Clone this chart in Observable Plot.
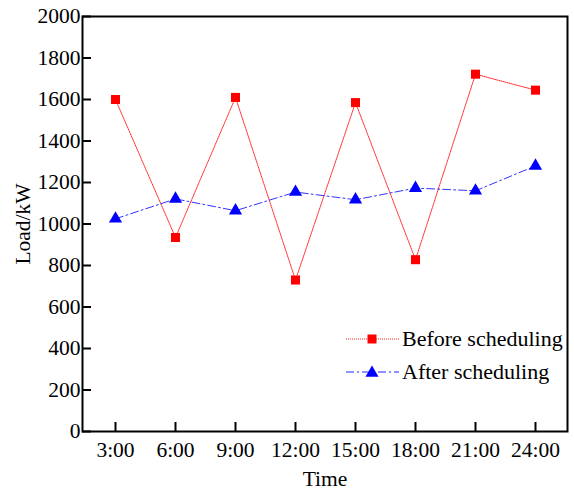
<!DOCTYPE html>
<html>
<head>
<meta charset="utf-8">
<script src="https://cdn.jsdelivr.net/npm/d3@7"></script>
<script src="https://cdn.jsdelivr.net/npm/@observablehq/plot@0.6"></script>
<style>
  html, body { margin: 0; padding: 0; background: #fff; }
  #wrap { position: relative; width: 574px; height: 492px; font-family: "Liberation Serif", "Times New Roman", serif; }
  .leg { position: absolute; left: 345px; display: flex; align-items: center; font-size: 22px; line-height: 24px; color: #000; white-space: nowrap; }
  .leg svg { display: block; margin-right: 2px; }
</style>
</head>
<body>
<div id="wrap"></div>
<script>
const times = ["3:00", "6:00", "9:00", "12:00", "15:00", "18:00", "21:00", "24:00"];
const beforeLoad = [1600, 935, 1610, 730, 1585, 828, 1722, 1645];
const afterLoad = [1025, 1121, 1064, 1154, 1117, 1173, 1160, 1280];
const yTicks = [0, 200, 400, 600, 800, 1000, 1200, 1400, 1600, 1800, 2000];
const seriesNames = ["Before scheduling", "After scheduling"];

const before = times.map((t, i) => ({time: t, load: beforeLoad[i]}));
const after = times.map((t, i) => ({time: t, load: afterLoad[i]}));

const chart = Plot.plot({
  width: 574,
  height: 492,
  marginLeft: 82,
  marginRight: 7,
  marginTop: 16,
  marginBottom: 61,
  style: {fontFamily: "'Liberation Serif', 'Times New Roman', serif", fontSize: "21.5px", color: "#000", background: "#fff"},
  x: {type: "point", domain: times, padding: 0.5},
  y: {domain: [0, 2000]},
  marks: [
    Plot.axisY({ticks: yTicks, tickFormat: d => String(d), tickSize: -9, tickPadding: 11, strokeWidth: 2, label: "Load/kW", labelAnchor: "center", labelArrow: "none", labelOffset: 68}),
    Plot.axisX({tickSize: -9, tickPadding: 19, strokeWidth: 2, label: "Time", labelAnchor: "center", labelArrow: "none", labelOffset: 54}),
    Plot.frame({stroke: "#000", strokeWidth: 2}),
    Plot.line(before, {x: "time", y: "load", stroke: "#ff0000", strokeWidth: 1, strokeOpacity: 0.85, strokeDasharray: "1,1"}),
    Plot.line(after, {x: "time", y: "load", stroke: "#0000ff", strokeWidth: 1, strokeOpacity: 0.8, strokeDasharray: "8,3,2,3"}),
    Plot.dot(before, {x: "time", y: "load", symbol: "square", r: 5.1, fill: "#ff0000", stroke: "none"}),
    Plot.dot(after, {x: "time", y: "load", symbol: "triangle", r: 4.9, fill: "#0000ff", stroke: "none"})
  ]
});

const wrap = document.getElementById("wrap");
wrap.appendChild(chart);

function legendItem(name, top, lineDash, color, symbolSvg) {
  const d = document.createElement("div");
  d.className = "leg";
  d.style.top = top + "px";
  d.innerHTML = `<svg width="55" height="20"><line x1="1" y1="10" x2="54" y2="10" stroke="${color}" stroke-opacity="0.85" stroke-width="1" stroke-dasharray="${lineDash}"/>${symbolSvg}</svg><span>${name}</span>`;
  wrap.appendChild(d);
}
legendItem(seriesNames[0], 327, "1,1", "#ff0000", `<rect x="22.5" y="5.5" width="9" height="9" fill="#ff0000"/>`);
legendItem(seriesNames[1], 360, "8,3,2,3", "#0000ff", `<path d="M27,3.5 L33.5,14.8 L20.5,14.8 Z" fill="#0000ff"/>`);
</script>
</body>
</html>
